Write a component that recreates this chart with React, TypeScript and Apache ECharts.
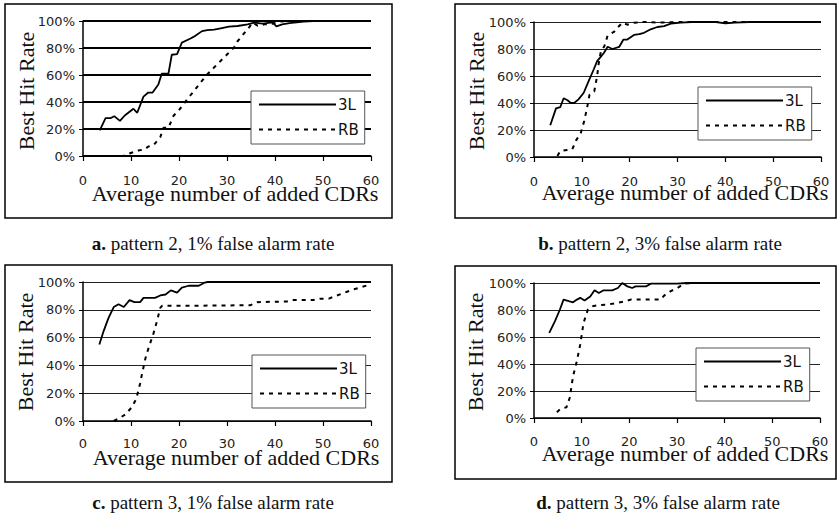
import React, { useEffect, useRef } from "react";
import * as echarts from "echarts";

// x tick values / y tick values
const xTicks = [0, 10, 20, 30, 40, 50, 60];
const yTicks = [0, 20, 40, 60, 80, 100];

const seriesNames = ["3L", "RB"];

// Panel a: pattern 2, 1% false alarm rate
const a3L: [number, number][] = [
  [3.5, 19], [4.7, 28], [5.7, 28], [6.5, 29.5], [7.7, 26], [8.7, 30], [10.5, 35], [11.3, 32],
  [12.6, 44], [13.6, 47], [14.5, 47], [15.7, 53], [16.4, 61], [17.8, 61], [18.5, 75], [19.6, 75.5],
  [20.6, 84], [22.4, 87], [23.4, 89], [24.8, 92.5], [25.9, 93.3], [27.3, 93.6], [28.7, 94.6],
  [30.4, 95.8], [32.2, 96.3], [34.3, 97.5], [35.7, 98.8], [37.4, 98], [39.5, 99], [40.3, 96],
  [41.5, 97.5], [43, 98.5], [46, 99.5], [48, 100], [60, 100],
];
const aRB: [number, number][] = [
  [6, 0], [8.4, 0], [9.8, 2], [11.5, 4], [12.9, 5], [13.6, 7], [14.7, 8], [16.1, 14], [16.8, 21],
  [17.8, 21], [18.9, 30], [19.9, 33.5], [21.7, 42], [23.1, 48], [24.5, 54.5], [25.9, 60.5],
  [27.3, 65.5], [28.7, 70.5], [30.1, 75.5], [31.5, 80.5], [32.2, 85], [33.6, 91], [34.6, 95.3],
  [35.3, 98.8], [36.4, 96.5], [37.8, 97.5], [39.5, 98], [40.6, 99.5], [43, 100], [60, 100],
];

// Panel b: pattern 2, 3% false alarm rate
const b3L: [number, number][] = [
  [3.4, 23.5], [4.6, 36], [5.5, 37], [6.2, 43.5], [7, 42], [7.7, 40], [8.4, 40], [9.3, 42.7],
  [10.4, 47.6], [11.4, 56], [12.5, 65], [13.2, 71], [13.9, 74], [14.6, 77], [15.4, 81.7],
  [16.4, 80], [17.8, 81.5], [18.7, 87], [19.5, 87], [20.9, 90.4], [22, 91], [23, 92],
  [24.4, 94.6], [25.8, 96.3], [27.2, 97], [28.6, 98.8], [30.7, 99.5], [33, 100], [38, 100],
  [40, 99], [42, 99.5], [45, 100], [60, 100],
];
const bRB: [number, number][] = [
  [4.9, 0.7], [5.5, 4.4], [6.5, 5], [8, 5.7], [8.8, 12.3], [9.8, 18], [10.5, 26.7], [11.1, 36.5],
  [11.6, 46], [12.6, 48.6], [13.2, 60], [13.5, 68.6], [14, 78.5], [14.7, 82], [15.4, 90],
  [16.7, 92.6], [17.4, 95.6], [18.5, 99.5], [19.5, 98], [20.9, 99.5], [23, 100], [26, 99.5],
  [30, 100], [60, 100],
];

// Panel c: pattern 3, 1% false alarm rate
const c3L: [number, number][] = [
  [3.4, 55], [4.3, 64.7], [5.3, 74], [6.4, 82], [7.4, 84], [8.5, 82], [9.7, 87], [10.7, 85.5],
  [11.9, 85.5], [12.6, 88.6], [15, 88.6], [16.1, 90.3], [17.2, 91], [18.3, 94], [19.6, 92.3],
  [20.6, 96], [22, 97.3], [24.1, 97.3], [25.3, 99.5], [26, 100], [60, 100],
];
const cRB: [number, number][] = [
  [6.4, 0], [7.4, 1.7], [8.8, 4.6], [10.2, 10], [11.1, 16], [11.9, 27], [12.3, 34], [13, 45],
  [13.7, 53], [14.6, 62], [15.4, 71.7], [16.1, 81.4], [16.5, 83], [25, 83], [34.9, 83.3],
  [36.3, 85.5], [42.5, 86], [43.9, 87], [48, 87], [49.4, 88], [51.2, 88], [52.9, 90.3],
  [55, 93], [56.4, 94.7], [58.1, 96.4], [59.9, 98.3],
];

// Panel d: pattern 3, 3% false alarm rate
const d3L: [number, number][] = [
  [3.2, 63], [4.4, 71.7], [5.4, 80], [6.2, 87.7], [7.3, 86.5], [8.2, 85.7], [9, 87.7], [9.7, 89],
  [10.6, 87], [11.8, 90], [12.7, 94.6], [13.6, 92.6], [14.6, 94.6], [16.4, 94.6], [17.6, 96.3],
  [18.5, 100], [19.6, 97.5], [20.6, 96.3], [21.3, 97.5], [23.5, 97.5], [24.5, 99.5], [30, 99.5],
  [32, 100], [60, 100],
];
const dRB: [number, number][] = [
  [4.8, 4.2], [5.5, 6.6], [6.8, 7.9], [7.5, 15], [8.2, 31], [9, 42.3], [9.7, 54.5], [10.4, 70.5],
  [11.3, 80.3], [12.2, 82.8], [13.2, 83.5], [15.4, 84], [17.5, 85.3], [19.2, 86.5], [20.3, 87.7],
  [26.6, 87.7], [27.3, 90.7], [28.7, 94], [30.1, 96.3], [31.5, 99.5], [33, 100], [60, 100],
];

const captions = [
  { tag: "a.", text: " pattern 2, 1% false alarm rate" },
  { tag: "b.", text: " pattern 2, 3% false alarm rate" },
  { tag: "c.", text: " pattern 3, 1% false alarm rate" },
  { tag: "d.", text: " pattern 3, 3% false alarm rate" },
];
const xTitle = "Average number of added CDRs";
const yTitle = "Best Hit Rate";

const SANS = "DejaVu Sans";
const SERIF = "Liberation Serif";

// layout per panel
const panels = [
  {
    grid: { left: 83, top: 21, width: 288, height: 135 },
    box: { x: 5, y: 4, w: 387, h: 214 },
    legend: { left: 251, top: 91 },
    xLabelMargin: 18,
    xTitle: { x: 235, y: 193 },
    yTitle: { x: 26, y: 91 },
    caption: { x: 213, y: 243 },
    gridLine: { color: "#000", width: 2 },
    data: [a3L, aRB],
  },
  {
    grid: { left: 534, top: 22, width: 287, height: 135 },
    box: { x: 455, y: 4, w: 381, h: 214 },
    legend: { left: 698, top: 87 },
    xLabelMargin: 17.5,
    xTitle: { x: 685, y: 192 },
    yTitle: { x: 476, y: 91 },
    caption: { x: 660, y: 243 },
    gridLine: { color: "#222", width: 1.2 },
    data: [b3L, bRB],
  },
  {
    grid: { left: 83, top: 282, width: 288, height: 139 },
    box: { x: 5, y: 265, w: 387, h: 217 },
    legend: { left: 252, top: 355 },
    xLabelMargin: 15.5,
    xTitle: { x: 236, y: 457 },
    yTitle: { x: 25, y: 352 },
    caption: { x: 213, y: 502 },
    gridLine: { color: "#222", width: 1.2 },
    data: [c3L, cRB],
  },
  {
    grid: { left: 534, top: 283, width: 286, height: 135 },
    box: { x: 455, y: 266, w: 381, h: 213 },
    legend: { left: 696, top: 348 },
    xLabelMargin: 17,
    xTitle: { x: 685, y: 453 },
    yTitle: { x: 475, y: 352 },
    caption: { x: 658, y: 502 },
    gridLine: { color: "#222", width: 1.2 },
    data: [d3L, dRB],
  },
];

export default function App() {
  const ref = useRef<HTMLDivElement>(null);

  useEffect(() => {
    if (!ref.current) return;
    const chart = echarts.init(ref.current, undefined, { renderer: "svg" });

    const grids = panels.map((p) => ({ ...p.grid, containLabel: false }));
    const xAxes = panels.map((p, i) => ({
      type: "value",
      gridIndex: i,
      min: xTicks[0],
      max: xTicks[xTicks.length - 1],
      interval: 10,
      axisLine: { show: true, onZero: false, lineStyle: { color: "#000", width: 1.5 } },
      axisTick: { show: true, length: 5, lineStyle: { color: "#000", width: 1.2 } },
      axisLabel: { fontFamily: SANS, fontSize: 13, color: "#222", margin: p.xLabelMargin },
      splitLine: { show: false },
    }));
    const yAxes = panels.map((p, i) => ({
      type: "value",
      gridIndex: i,
      min: yTicks[0],
      max: yTicks[yTicks.length - 1],
      interval: 20,
      axisLine: { show: true, lineStyle: { color: "#000", width: 1.5 } },
      axisTick: { show: true, length: 4, lineStyle: { color: "#000", width: 1 } },
      axisLabel: {
        fontFamily: SANS,
        fontSize: 13,
        color: "#222",
        margin: 8,
        formatter: "{value}%",
      },
      splitLine: { show: true, lineStyle: { color: p.gridLine.color, width: p.gridLine.width } },
    }));

    const series: any[] = [];
    panels.forEach((p, i) => {
      series.push({
        name: seriesNames[0],
        type: "line",
        xAxisIndex: i,
        yAxisIndex: i,
        data: p.data[0],
        symbol: "none",
        lineStyle: { color: "#000", width: 1.8, type: "solid" },
        itemStyle: { color: "#000" },
        z: 3,
      });
      series.push({
        name: seriesNames[1],
        type: "line",
        xAxisIndex: i,
        yAxisIndex: i,
        data: p.data[1],
        symbol: "none",
        lineStyle: { color: "#000", width: 2, type: [4, 5] },
        itemStyle: { color: "#000" },
        z: 3,
      });
    });

    const legends = panels.map((p) => ({
      data: seriesNames,
      orient: "vertical",
      left: p.legend.left,
      top: p.legend.top,
      padding: [6, 6, 7, 7],
      itemWidth: 77,
      itemHeight: 14,
      itemGap: 10,
      borderColor: "#555",
      borderWidth: 1,
      backgroundColor: "#fff",
      selectedMode: false,
      itemStyle: { color: "rgba(0,0,0,0)", borderColor: "rgba(0,0,0,0)", borderWidth: 0, opacity: 0 },
      textStyle: { fontFamily: SANS, fontSize: 15, color: "#111", padding: [0, 0, 0, -3] },
      z: 5,
    }));

    const graphics: any[] = [];
    panels.forEach((p, i) => {
      graphics.push({
        type: "rect",
        shape: { x: p.box.x, y: p.box.y, width: p.box.w, height: p.box.h },
        style: { fill: "none", stroke: "#000", lineWidth: 1.5 },
        silent: true,
      });
      graphics.push({
        type: "text",
        x: p.xTitle.x,
        y: p.xTitle.y,
        style: {
          text: xTitle,
          fontFamily: SERIF,
          fontSize: 22,
          fill: "#111",
          align: "center",
          verticalAlign: "middle",
        },
      });
      graphics.push({
        type: "text",
        x: p.yTitle.x,
        y: p.yTitle.y,
        rotation: Math.PI / 2,
        style: {
          text: yTitle,
          fontFamily: SERIF,
          fontSize: 22,
          fill: "#111",
          align: "center",
          verticalAlign: "middle",
        },
      });
      graphics.push({
        type: "text",
        x: p.caption.x,
        y: p.caption.y,
        style: {
          text: "{b|" + captions[i].tag + "}" + captions[i].text,
          fontFamily: SERIF,
          fontSize: 19,
          fill: "#111",
          align: "center",
          verticalAlign: "middle",
          rich: {
            b: { fontFamily: SERIF, fontSize: 19, fontWeight: "bold", fill: "#111" },
          },
        },
      });
    });

    chart.setOption({
      animation: false,
      backgroundColor: "#fff",
      grid: grids,
      xAxis: xAxes,
      yAxis: yAxes,
      legend: legends,
      series,
      graphic: graphics,
    });

    return () => {
      chart.dispose();
    };
  }, []);

  return (
    <div
      ref={ref}
      style={{ position: "absolute", left: 0, top: 0, width: 838, height: 522, background: "#fff" }}
    />
  );
}
